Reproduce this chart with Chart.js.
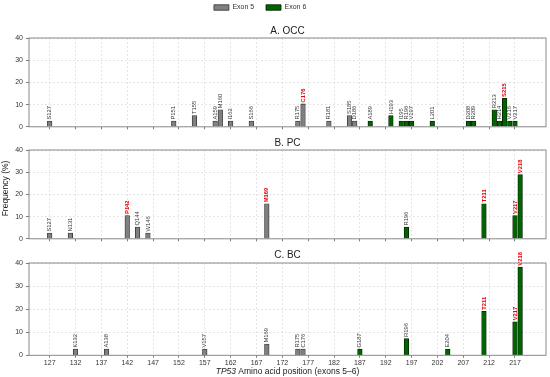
<!DOCTYPE html>
<html>
<head>
<meta charset="utf-8">
<script src="https://cdn.jsdelivr.net/npm/chart.js@4.4.0/dist/chart.umd.min.js"></script>
<style>
  body { margin: 0; background: #fff; width: 550px; height: 377px; position: relative; overflow: hidden; }
  canvas { position: absolute; left: 0; }
</style>
</head>
<body>
<canvas id="occ" width="550" height="134" style="top:0px"></canvas>
<canvas id="pc" width="550" height="114" style="top:132px"></canvas>
<canvas id="bc" width="550" height="131" style="top:246px"></canvas>
<script>
// x ticks (codon positions)
const xTicks = [127, 132, 137, 142, 147, 152, 157, 162, 167, 172, 177, 182, 187, 192, 197, 202, 207, 212, 217]

// A. OCC
const occPos = [127, 151, 155, 159, 160, 162, 166, 175, 176, 181, 185, 186, 189, 193, 195, 196, 197, 201, 208, 209, 213, 214, 215, 216, 217]
const occVal = [2.6, 2.6, 5.1, 2.6, 7.7, 2.6, 2.6, 2.6, 10.3, 2.6, 5.1, 2.6, 2.6, 5.1, 2.6, 2.6, 2.6, 2.6, 2.6, 2.6, 7.7, 2.6, 12.8, 2.6, 2.6]
const occLab = ["S127", "P151", "T155", "A159", "M160", "I162", "S166", "R175", "C176", "R181", "S185", "D186", "A189", "H193", "I195", "R196", "V197", "L201", "D208", "R209", "R213", "H214", "S215", "V216", "V217"]
const occRed = ["C176", "S215"]

// B. PC
const pcPos = [127, 131, 142, 144, 146, 169, 196, 211, 217, 218]
const pcVal = [2.6, 2.6, 10.5, 5.3, 2.6, 15.8, 5.3, 15.8, 10.5, 28.9]
const pcLab = ["S127", "N131", "P142", "Q144", "W146", "M169", "R196", "T211", "V217", "V218"]
const pcRed = ["P142", "M169", "T211", "V217", "V218"]

// C. BC
const bcPos = [132, 138, 157, 169, 175, 176, 187, 196, 204, 211, 217, 218]
const bcVal = [2.7, 2.7, 2.7, 4.9, 2.7, 2.7, 2.7, 7.3, 2.7, 19.1, 14.5, 38.2]
const bcLab = ["K132", "A138", "V157", "M169", "R175", "C176", "G187", "R196", "E204", "T211", "V217", "V218"]
const bcRed = ["T211", "V217", "V218"]

const exon5Last = 186
const FONT = "'Liberation Sans', Arial, sans-serif"

Chart.defaults.font.family = FONT
Chart.defaults.color = "#333"

function buildDatasets(pos, vals, labs, reds) {
  const pts = pos.map((p, i) => ({ x: p, y: vals[i], label: labs[i], red: reds.includes(labs[i]) }))
  return [
    {
      label: "Exon 5",
      data: pts.filter(p => p.x <= exon5Last),
      backgroundColor: "#808080",
      borderColor: "#333333",
      borderWidth: 0.8
    },
    {
      label: "Exon 6",
      data: pts.filter(p => p.x > exon5Last),
      backgroundColor: "#006400",
      borderColor: "#002000",
      borderWidth: 0.8
    }
  ]
}

// vertical labels above each bar
const barLabels = {
  id: "barLabels",
  afterDatasetsDraw(chart) {
    const ctx = chart.ctx
    chart.data.datasets.forEach((ds, i) => {
      chart.getDatasetMeta(i).data.forEach((bar, j) => {
        const p = ds.data[j]
        ctx.save()
        ctx.translate(bar.x, bar.y - 1.5)
        ctx.rotate(-Math.PI / 2)
        ctx.font = (p.red ? "bold " : "") + "5.8px " + FONT
        ctx.fillStyle = p.red ? "#e8000b" : "#333"
        ctx.textAlign = "left"
        ctx.textBaseline = "middle"
        ctx.fillText(p.label, 0, 0)
        ctx.restore()
      })
    })
  }
}

// box around the plot area
const frame = {
  id: "frame",
  afterDatasetsDraw(chart) {
    const { left, top, right, bottom } = chart.chartArea
    const ctx = chart.ctx
    ctx.save()
    ctx.strokeStyle = "#8a8a8a"
    ctx.lineWidth = 1
    ctx.strokeRect(left, top, right - left, bottom - top)
    ctx.restore()
  }
}

// extra texts (y label on B, x label with italic gene name on C)
const yTitle = {
  id: "yTitle",
  afterDraw(chart) {
    const ctx = chart.ctx
    ctx.save()
    ctx.translate(6, 56.5)
    ctx.rotate(-Math.PI / 2)
    ctx.font = "8.5px " + FONT
    ctx.fillStyle = "#222"
    ctx.textAlign = "center"
    ctx.textBaseline = "middle"
    ctx.fillText("Frequency (%)", 0, 0)
    ctx.restore()
  }
}

const xTitle = {
  id: "xTitle",
  afterDraw(chart) {
    const ctx = chart.ctx
    const { left, right } = chart.chartArea
    const gene = "TP53"
    const rest = " Amino acid position (exons 5\u20136)"
    ctx.save()
    ctx.textBaseline = "middle"
    ctx.fillStyle = "#222"
    ctx.font = "italic 8.5px " + FONT
    const w1 = ctx.measureText(gene).width
    ctx.font = "8.5px " + FONT
    const w2 = ctx.measureText(rest).width
    const x0 = (left + right) / 2 - (w1 + w2) / 2
    const y = chart.height - 5.5
    ctx.font = "italic 8.5px " + FONT
    ctx.fillText(gene, x0, y)
    ctx.font = "8.5px " + FONT
    ctx.fillText(rest, x0 + w1, y)
    ctx.restore()
  }
}

function makeChart(id, title, pos, vals, labs, reds, cfg) {
  const plugins = [barLabels, frame].concat(cfg.extra || [])
  const padLeft = cfg.padLeft || 0
  return new Chart(document.getElementById(id), {
    type: "bar",
    data: { datasets: buildDatasets(pos, vals, labs, reds) },
    plugins: plugins,
    options: {
      responsive: false,
      animation: false,
      layout: { padding: { left: padLeft, right: 4, top: 0, bottom: 0 } },
      datasets: { bar: { grouped: false, barThickness: 4.6 } },
      plugins: {
        tooltip: { enabled: false },
        legend: {
          display: !!cfg.legend,
          position: "top",
          weight: 3000,
          labels: { boxWidth: 15, boxHeight: 5.5, padding: 4, font: { size: 7 }, color: "#333",
            generateLabels: c => Chart.defaults.plugins.legend.labels.generateLabels(c).map(l => ({ ...l, text: l.text + "    " })) }
        },
        title: {
          display: true,
          text: title,
          fullSize: false,
          color: "#222",
          font: { size: 10, weight: "normal" },
          padding: cfg.titlePad
        }
      },
      scales: {
        x: {
          type: "linear",
          offset: false,
          min: 123,
          max: 223,
          afterBuildTicks: s => { s.ticks = xTicks.map(v => ({ value: v })) },
          afterFit: s => { s.height = cfg.xHeight },
          ticks: {
            display: !!cfg.xLabels,
            autoSkip: false,
            maxRotation: 0,
            padding: 1,
            font: { size: 7 },
            color: "#333",
            callback: v => String(v)
          },
          grid: { offset: false, color: "#dadada", lineWidth: 0.7, tickLength: 2.5, tickColor: "#444", tickWidth: 0.7 },
          border: { display: false, dash: [2, 2] }
        },
        y: {
          min: 0,
          max: 40,
          afterFit: s => { s.width = 29 - padLeft },
          ticks: { stepSize: 10, padding: 3, font: { size: 7 }, color: "#333" },
          grid: { color: "#dadada", lineWidth: 0.7, tickLength: 3, tickColor: "#444", tickWidth: 0.7 },
          border: { display: false, dash: [2, 2] }
        }
      }
    }
  })
}

makeChart("occ", "A. OCC", occPos, occVal, occLab, occRed,
  { legend: true, padLeft: -18, titlePad: { top: 4, bottom: 1 }, xHeight: 4 })
makeChart("pc", "B. PC", pcPos, pcVal, pcLab, pcRed,
  { titlePad: { top: 5, bottom: 1 }, xHeight: 4, extra: [yTitle] })
makeChart("bc", "C. BC", bcPos, bcVal, bcLab, bcRed,
  { titlePad: { top: 3, bottom: 2 }, xHeight: 21.7, xLabels: true, extra: [xTitle] })
</script>
</body>
</html>
